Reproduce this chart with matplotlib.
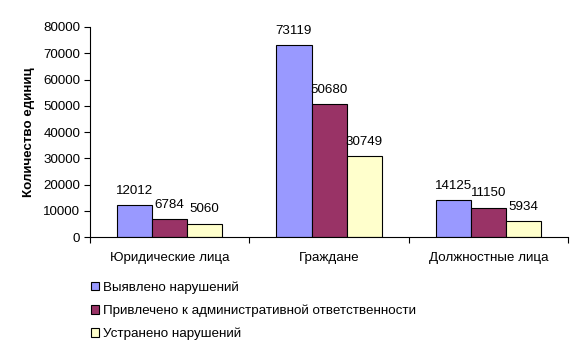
import numpy as np
import matplotlib.pyplot as plt

plt.rcParams['font.family'] = ['Liberation Sans', 'DejaVu Sans']

categories = ['Юридические лица', 'Граждане', 'Должностные лица']
series_names = ['Выявлено нарушений',
                'Привлечено к административной ответственности',
                'Устранено нарушений']
detected = [12012, 73119, 14125]
punished = [6784, 50680, 11150]
fixed = [5060, 30749, 5934]
colors = ['#9999FF', '#993366', '#FFFFCC']

fs = 9.6
fig = plt.figure(figsize=(5.83, 3.59), dpi=100)
ax = fig.add_axes([0.1544, 0.3398, 0.82, 0.585])

x = np.arange(len(categories))
w = 0.22
for i, (vals, name, c) in enumerate(zip([detected, punished, fixed], series_names, colors)):
    pos = x + (i - 1) * w
    ax.bar(pos, vals, w, color=c, edgecolor='black', linewidth=0.8, label=name)
    for p, v in zip(pos, vals):
        ax.annotate(str(v), (p, v), xytext=(0, 6), textcoords='offset points',
                    ha='center', va='bottom', fontsize=fs)

ax.set_xlim(-0.5, 2.5)
ax.set_ylim(0, 80000)
ax.set_yticks(np.arange(0, 80001, 10000))
ax.tick_params(axis='y', labelsize=fs, length=4, width=0.8, pad=3)
ax.set_xticks(x)
ax.set_xticklabels(categories, fontsize=fs)
ax.tick_params(axis='x', length=0, pad=11)
ax.set_xticks([-0.5, 0.5, 1.5, 2.5], minor=True)
ax.tick_params(axis='x', which='minor', length=4, width=0.8)
for s in ['top', 'right']:
    ax.spines[s].set_visible(False)
ax.spines['left'].set_linewidth(0.8)
ax.spines['bottom'].set_linewidth(0.8)
ax.set_ylabel('Количество единиц', fontsize=fs, fontweight='bold', labelpad=6)

fig.legend(loc='upper left', bbox_to_anchor=(0.145, 0.235), frameon=False,
           fontsize=fs, handlelength=0.6, handleheight=0.6, handletextpad=0.25,
           labelspacing=0.8, borderpad=0)

fig.savefig('out.png', dpi=100)
